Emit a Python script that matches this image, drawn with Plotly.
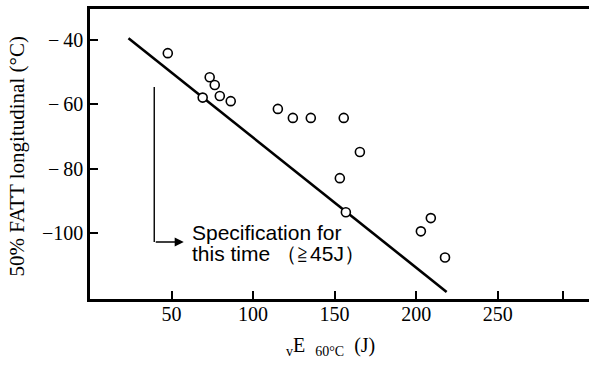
import plotly.graph_objects as go

# Data
energy_J = [47.7, 69.1, 73.4, 76.5, 79.6, 86.3, 115.2, 124.4, 135.4, 155.6,
            165.5, 153.2, 156.9, 202.9, 209.0, 217.7]
fatt_C = [-44.1, -57.9, -51.6, -54.0, -57.4, -59.0, -61.4, -64.2, -64.2, -64.2,
          -74.8, -82.9, -93.5, -99.4, -95.3, -107.5]

fit_x = [23.6, 218.7]
fit_y = [-39.5, -118.2]

spec_x = [39.4, 39.4]
spec_y = [-54.6, -102.7]
spec_tip_x = 57.5

x_tickvals = [50, 100, 150, 200, 250, 290]
x_ticktext = ["50", "100", "150", "200", "250", ""]
y_tickvals = [-40, -60, -80, -100]
y_ticktext = ["\u2212\u200940", "\u2212\u200960", "\u2212\u200980", "\u2212100"]

serif = "Liberation Serif"
sans = "Liberation Sans"

fig = go.Figure()
fig.add_trace(go.Scatter(x=fit_x, y=fit_y, mode="lines",
                         line=dict(color="black", width=2.6), showlegend=False))
fig.add_trace(go.Scatter(x=spec_x, y=spec_y, mode="lines",
                         line=dict(color="black", width=1.4), showlegend=False))
fig.add_trace(go.Scatter(x=energy_J, y=fatt_C, mode="markers",
                         marker=dict(symbol="circle", size=9, color="white",
                                     line=dict(color="black", width=1.6)),
                         showlegend=False))

# arrow head of the specification pointer
fig.add_annotation(x=spec_tip_x, y=spec_y[1], ax=spec_x[1], ay=spec_y[1],
                   xref="x", yref="y", axref="x", ayref="y", text="",
                   showarrow=True, arrowhead=2, arrowsize=1.3, arrowwidth=1.4,
                   arrowcolor="black")

fig.add_annotation(x=61.2, y=-99.7, xref="x", yref="y", text="Specification for",
                   showarrow=False, xanchor="left", yanchor="middle",
                   font=dict(family=sans, size=21, color="black"))
fig.add_annotation(x=61.2, y=-106.3, xref="x", yref="y",
                   text="this time\u00a0（≧45J）",
                   showarrow=False, xanchor="left", yanchor="middle",
                   font=dict(family=sans, size=21, color="black"))

# axis titles
fig.add_annotation(x=-0.146, y=0.492, xref="paper", yref="paper",
                   text="50% FATT longitudinal (°C)", textangle=-90,
                   showarrow=False, xanchor="center", yanchor="middle",
                   font=dict(family=serif, size=21, color="black"))
fig.add_annotation(x=0.481, y=-0.165, xref="paper", yref="paper",
                   text="<sub>v</sub>E\u00a0\u00a0<sub>60°C</sub>\u00a0\u00a0(J)",
                   showarrow=False, xanchor="center", yanchor="middle",
                   font=dict(family=serif, size=20, color="black"))

fig.update_xaxes(range=[0, 306], tickvals=x_tickvals, ticktext=x_ticktext,
                 ticks="inside", ticklen=8, tickwidth=1.5, tickcolor="black",
                 showline=True, linecolor="black", linewidth=2.5, mirror=True,
                 showgrid=False, zeroline=False, ticklabelstandoff=-5,
                 tickfont=dict(family=serif, size=20, color="black"))
fig.update_yaxes(range=[-120.4, -30.4], tickvals=y_tickvals, ticktext=y_ticktext,
                 ticks="inside", ticklen=8, tickwidth=1.5, tickcolor="black",
                 showline=True, linecolor="black", linewidth=2.5, mirror=False,
                 showgrid=False, zeroline=False, ticklabelstandoff=0,
                 tickfont=dict(family=serif, size=20, color="black"))

fig.update_layout(width=589, height=365, plot_bgcolor="white", paper_bgcolor="white",
                  font=dict(family=serif, color="black"),
                  margin=dict(l=90, r=0, t=9, b=66))

fig.write_html("out.html")
